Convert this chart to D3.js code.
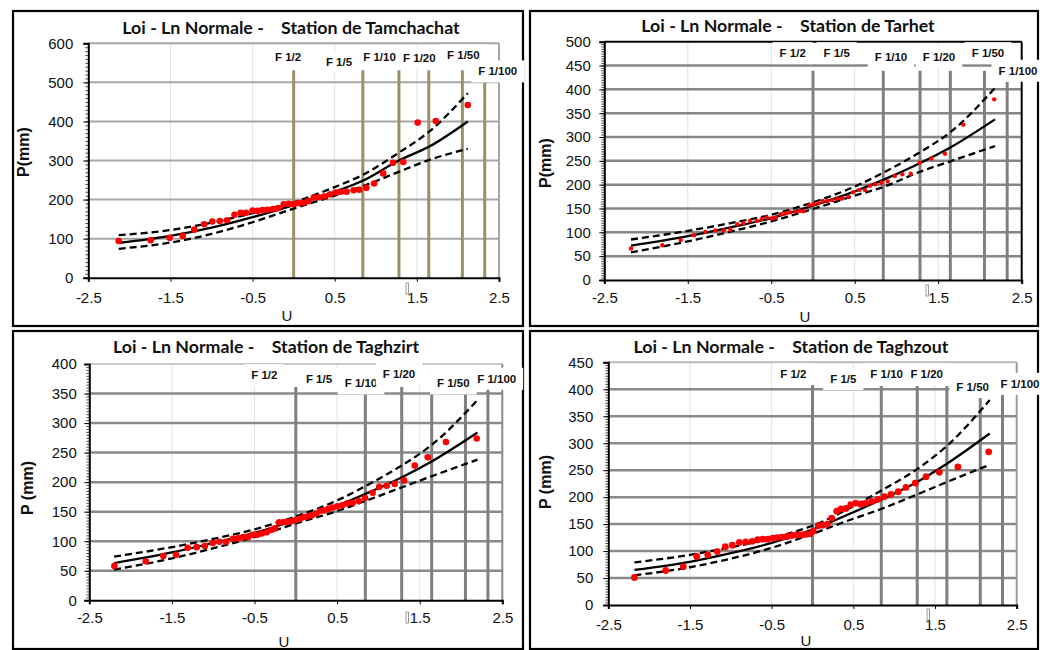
<!DOCTYPE html>
<html>
<head>
<meta charset="utf-8">
<script src="https://cdn.jsdelivr.net/npm/d3@7"></script>
<style>
  body { margin: 0; background: #fff; }
  svg { display: block; }
  text { font-family: "Liberation Sans", Arial, sans-serif; }
  text.title { font-family: Lato, "Open Sans", sans-serif; white-space: pre; }
</style>
</head>
<body>
<div id="chart-area"></div>
<script>
// ---- shared values
var xTicks = [-2.5, -1.5, -0.5, 0.5, 1.5, 2.5];
var freqLabels = ['F 1/2', 'F 1/5', 'F 1/10', 'F 1/20', 'F 1/50', 'F 1/100'];
var freqU = [0, 0.842, 1.282, 1.645, 2.054, 2.326];

// ---- Tamchachat
var tamU = [-2.13,-1.74,-1.51,-1.35,-1.21,-1.09,-0.99,-0.90,-0.81,-0.72,-0.645,-0.58,-0.50,-0.44,-0.38,-0.32,-0.255,-0.19,-0.12,-0.06,0.0,0.06,0.12,0.18,0.245,0.305,0.37,0.44,0.51,0.57,0.645,0.73,0.80,0.885,0.98,1.09,1.21,1.335,1.51,1.73,2.12];
var tamP = [94,96,102,107,123,137,144,145,147,161,166,166,172,171,173,174,176,178,188,189,188,191,192,196,205,206,208,213,218,220,220,224,225,230,241,267,294,296,397,401,442];
var tamLineU = [-2.13,-1.5,-1,-0.5,0,0.5,0.84,1.28,1.645,2.12];
var tamFit   = [89,107,128,155,186,220,248,300,335,400];
var tamUpper = [109,122,141,165,193,232,263,320,373,472];
var tamLower = [74,90,112,142,177,210,234,271,301,330];
var tamFTop  = [531,531,531,531,531,499];
var tamLabU  = [-0.068,0.552,1.045,1.53,2.066,2.484];
var tamLabP  = [566,553,566,562,569,528];

// ---- Tarhet
var tarU = [-2.18,-1.805,-1.585,-1.425,-1.29,-1.17,-1.07,-0.99,-0.907,-0.835,-0.755,-0.674,-0.615,-0.555,-0.495,-0.443,-0.383,-0.327,-0.276,-0.216,-0.156,-0.108,-0.048,0.004,0.064,0.116,0.172,0.232,0.292,0.348,0.423,0.483,0.555,0.623,0.683,0.743,0.818,0.895,0.98,1.07,1.17,1.28,1.417,1.58,1.80,2.17];
var tarP = [66,73,84,94,101,104,104,106,117,119,124,124,128,131,129,131,138,140,142,143,145,145,157,159,161,166,166,168,171,171,174,184,189,189,198,201,204,207,218,222,223,246,255,265,326,379];
var tarLineU = [-2.18,-1.5,-1,-0.5,0,0.5,0.84,1.28,1.645,2.18];
var tarFit   = [72,92,110,130,156,186,210,245,278,337];
var tarUpper = [85,103,119,137,163,196,225,268,310,403];
var tarLower = [58,81,101,123,149,177,195,227,249,281];
var tarFTop  = [439,439,439,439,439,416];
var tarLabU  = [-0.243,0.284,0.934,1.509,2.096,2.456];
var tarLabP  = [476,476,468,468,476,439];

// ---- Taghzirt
var tgrU = [-2.197,-1.817,-1.604,-1.45,-1.309,-1.2,-1.1,-1.006,-0.926,-0.845,-0.764,-0.696,-0.636,-0.575,-0.522,-0.466,-0.413,-0.352,-0.3,-0.252,-0.203,-0.151,-0.103,-0.05,0.002,0.05,0.1,0.148,0.196,0.245,0.293,0.342,0.393,0.447,0.503,0.563,0.624,0.689,0.762,0.838,0.93,1.01,1.1,1.197,1.31,1.44,1.597,1.818,2.19];
var tgrP = [58,66,75,77,89,90,92,97,99,99,104,105,107,107,111,111,113,115,119,122,132,132,133,134,136,138,141,142,144,147,151,152,155,157,159,161,164,165,168,173,182,192,194,197,203,228,242,268,274];
var tgrLineU = [-2.2,-1.5,-1,-0.5,0,0.5,0.84,1.28,1.645,2.2];
var tgrFit   = [63,81,97,114,136,160,180,208,235,284];
var tgrUpper = [74,90,104,120,142,169,193,228,263,339];
var tgrLower = [52,71,88,107,130,151,168,191,210,238];
var tgrFTop  = [361,350,361,350,350,358];
var tgrLabU  = [-0.381,0.281,0.789,1.249,1.907,2.432];
var tgrLabP  = [381,374,367,383,367,375];

// ---- Taghzout
var tgtU = [-2.18,-1.797,-1.582,-1.418,-1.283,-1.166,-1.068,-0.982,-0.896,-0.818,-0.741,-0.671,-0.61,-0.549,-0.487,-0.431,-0.37,-0.309,-0.247,-0.193,-0.132,-0.08,-0.03,0.01,0.071,0.125,0.181,0.235,0.296,0.349,0.41,0.468,0.529,0.59,0.651,0.725,0.802,0.879,0.961,1.05,1.145,1.258,1.39,1.553,1.78,2.157];
var tgtP = [51,64,71,90,93,99,108,111,116,117,118,121,122,122,124,125,126,127,129,130,130,131,132,137,147,148,150,161,174,178,179,186,189,187,189,192,196,201,205,210,218,226,238,246,256,284];
var tgtLineU = [-2.18,-1.5,-1,-0.5,0,0.5,0.84,1.28,1.645,2.17];
var tgtFit   = [65,80,96,115,140,172,195,228,262,318];
var tgtUpper = [79,93,107,124,147,183,212,252,295,380];
var tgtLower = [55,70,86,106,132,160,178,205,228,260];
var tgtFTop  = [409,406,406,406,385,390];
var tgtLabU  = [-0.235,0.377,0.908,1.398,1.961,2.54];
var tgtLabP  = [428,419,428,428,404,410];

// ---- layout of each panel
var panels = [
  { title: 'Loi - Ln Normale -    Station de Tamchachat', ylabel: 'P(mm)',
    box: [13, 11, 510, 315], plot: { l: 88.3, r: 499, t: 43.3, b: 277.7 },
    yMax: 600, yStep: 100, minor: 10, yPad: 10, xDy: 20,
    titleX: 291, titleY: 34, ylabX: 23, ylabY: 152, xlabX: 287, xlabY: 321,
    grid: '#a6a6a6', gridW: 2, frameTop: '#a6a6a6', frameRight: '#a6a6a6', fCol: '#9b9063', fW: 3,
    dot: 3.3, mark: [406, 283],
    u: tamU, p: tamP, lu: tamLineU, fit: tamFit, up: tamUpper, lo: tamLower,
    fTop: tamFTop, labU: tamLabU, labP: tamLabP },
  { title: 'Loi - Ln Normale -    Station de Tarhet', ylabel: 'P(mm)',
    box: [530, 11, 508, 315], plot: { l: 604.3, r: 1021.7, t: 41.7, b: 280 },
    yMax: 500, yStep: 50, minor: 5, yPad: 8.5, xDy: 18,
    titleX: 788, titleY: 32, ylabX: 545, ylabY: 163, xlabX: 805, xlabY: 322,
    grid: '#868686', gridW: 2.5, frameTop: '#000', frameRight: '#000', fCol: '#808080', fW: 3,
    dot: 2.2, mark: [926, 285],
    u: tarU, p: tarP, lu: tarLineU, fit: tarFit, up: tarUpper, lo: tarLower,
    fTop: tarFTop, labU: tarLabU, labP: tarLabP },
  { title: 'Loi - Ln Normale -    Station de Taghzirt', ylabel: 'P (mm)',
    box: [13, 331, 510, 318], plot: { l: 89.3, r: 502.3, t: 364, b: 600.3 },
    yMax: 400, yStep: 50, minor: 5, yPad: 7.5, xDy: 18,
    titleX: 266, titleY: 353, ylabX: 27, ylabY: 488, xlabX: 284, xlabY: 647,
    grid: '#8a8a8a', gridW: 2.5, frameTop: '#c8c8c8', frameRight: '#8a8a8a', fCol: '#7f7f7f', fW: 3,
    dot: 3.3, mark: [406, 612],
    u: tgrU, p: tgrP, lu: tgrLineU, fit: tgrFit, up: tgrUpper, lo: tgrLower,
    fTop: tgrFTop, labU: tgrLabU, labP: tgrLabP },
  { title: 'Loi - Ln Normale -    Station de Taghzout', ylabel: 'P (mm)',
    box: [530, 331, 508, 318], plot: { l: 608.3, r: 1016.7, t: 362.3, b: 605 },
    yMax: 450, yStep: 50, minor: 5, yPad: 10, xDy: 20,
    titleX: 791, titleY: 353, ylabX: 545, ylabY: 482, xlabX: 806, xlabY: 646,
    grid: '#8a8a8a', gridW: 2.5, frameTop: '#bbbbbb', frameRight: '#999999', fCol: '#7f7f7f', fW: 3,
    dot: 3.4, mark: [927, 609],
    u: tgtU, p: tgtP, lu: tgtLineU, fit: tgtFit, up: tgtUpper, lo: tgtLower,
    fTop: tgtFTop, labU: tgtLabU, labP: tgtLabP }
];

var svg = d3.select('#chart-area').append('svg')
    .attr('width', 1040).attr('height', 650);

svg.append('rect').attr('width', 1040).attr('height', 650).attr('fill', '#fff');

panels.forEach(drawPanel);

function drawPanel(c) {
  var x = d3.scaleLinear().domain([-2.5, 2.5]).range([c.plot.l, c.plot.r]);
  var y = d3.scaleLinear().domain([0, c.yMax]).range([c.plot.b, c.plot.t]);
  var g = svg.append('g');

  // outer black border
  g.append('rect')
      .attr('x', c.box[0]).attr('y', c.box[1])
      .attr('width', c.box[2]).attr('height', c.box[3])
      .attr('fill', 'none').attr('stroke', '#000').attr('stroke-width', 2.2);

  // light vertical gridlines
  g.selectAll('.vgrid').data(xTicks.slice(1, -1)).enter()
    .append('line')
      .attr('x1', d => x(d)).attr('x2', d => x(d))
      .attr('y1', y(c.yMax)).attr('y2', y(0))
      .attr('stroke', '#e2e2e2').attr('stroke-width', 1);

  // horizontal gridlines
  var yTicks = d3.range(0, c.yMax + 1, c.yStep);
  g.selectAll('.hgrid').data(yTicks.slice(1, -1)).enter()
    .append('line')
      .attr('x1', x(-2.5)).attr('x2', x(2.5))
      .attr('y1', d => y(d)).attr('y2', d => y(d))
      .attr('stroke', c.grid).attr('stroke-width', c.gridW);

  // plot frame (top + right)
  g.append('line')
      .attr('x1', x(-2.5)).attr('x2', x(2.5))
      .attr('y1', y(c.yMax)).attr('y2', y(c.yMax))
      .attr('stroke', c.frameTop).attr('stroke-width', 2);
  g.append('line')
      .attr('x1', x(2.5)).attr('x2', x(2.5))
      .attr('y1', y(c.yMax)).attr('y2', y(0))
      .attr('stroke', c.frameRight).attr('stroke-width', 2);

  // frequency lines
  g.selectAll('.fline').data(freqU).enter()
    .append('line')
      .attr('x1', d => x(d)).attr('x2', d => x(d))
      .attr('y1', y(0)).attr('y2', (d, i) => y(c.fTop[i]))
      .attr('stroke', c.fCol).attr('stroke-width', c.fW);

  // frequency labels on white boxes
  freqLabels.forEach(function (lab, i) {
    var cx = x(c.labU[i]), cy = y(c.labP[i]);
    var bg = g.append('rect').attr('fill', '#fff');
    var t = g.append('text')
        .attr('x', cx).attr('y', cy)
        .attr('text-anchor', 'middle')
        .attr('dominant-baseline', 'central')
        .attr('font-size', '11.5px').attr('font-weight', 'bold')
        .attr('fill', '#111')
        .text(lab);
    var w = t.node().getComputedTextLength();
    bg.attr('x', cx - w / 2 - 7).attr('y', cy - 11)
      .attr('width', w + 14).attr('height', 22);
  });

  // y axis with minor ticks
  var minorAxis = d3.axisLeft(y)
      .tickValues(d3.range(0, c.yMax + 0.1, c.minor))
      .tickSize(3).tickFormat('');
  g.append('g').attr('transform', 'translate(' + x(-2.5) + ',0)')
      .call(minorAxis)
      .call(s => s.select('.domain').remove())
      .selectAll('line').attr('stroke', '#555');

  var yAxis = d3.axisLeft(y).tickValues(yTicks).tickSize(5)
      .tickPadding(c.yPad).tickFormat(d3.format('d'));
  var ya = g.append('g').attr('transform', 'translate(' + x(-2.5) + ',0)').call(yAxis);
  ya.select('.domain').attr('stroke', '#000').attr('stroke-width', 2);
  ya.selectAll('line').attr('stroke', '#000');
  ya.selectAll('text').attr('font-size', '15px').attr('fill', '#111');

  var xAxis = d3.axisBottom(x).tickValues(xTicks).tickSize(4)
      .tickPadding(c.xDy - 9.5).tickFormat(d => d);
  var xa = g.append('g').attr('transform', 'translate(0,' + y(0) + ')').call(xAxis);
  xa.select('.domain').attr('stroke', '#000').attr('stroke-width', 2);
  xa.selectAll('line').attr('stroke', '#000');
  xa.selectAll('text').attr('font-size', '15px').attr('fill', '#111');

  // little stray mark next to "1.5"
  g.append('rect').attr('x', c.mark[0]).attr('y', c.mark[1])
      .attr('width', 2.5).attr('height', 11)
      .attr('fill', 'none').attr('stroke', '#999').attr('stroke-width', 1);

  // fitted law + confidence bounds
  var line = d3.line().x(d => x(d[0])).y(d => y(d[1])).curve(d3.curveMonotoneX);
  [[c.up, '7,4'], [c.lo, '7,4'], [c.fit, null]].forEach(function (s) {
    g.append('path')
        .datum(c.lu.map((u, i) => [u, s[0][i]]))
        .attr('d', line)
        .attr('fill', 'none').attr('stroke', '#000').attr('stroke-width', 2.3)
        .attr('stroke-dasharray', s[1]);
  });

  // observed values
  g.selectAll('.obs').data(c.u).enter()
    .append('circle')
      .attr('cx', d => x(d))
      .attr('cy', (d, i) => y(c.p[i]))
      .attr('r', c.dot)
      .attr('fill', '#ff0000');

  // titles
  g.append('text')
      .attr('class', 'title')
      .attr('x', c.titleX).attr('y', c.titleY)
      .attr('text-anchor', 'middle')
      .attr('font-weight', 'bold').attr('font-size', '17.8px')
      .attr('fill', '#111')
      .text(c.title);

  g.append('text')
      .attr('transform', 'translate(' + c.ylabX + ',' + c.ylabY + ') rotate(-90)')
      .attr('text-anchor', 'middle').attr('dominant-baseline', 'central')
      .attr('font-weight', 'bold').attr('font-size', '16px')
      .attr('fill', '#111')
      .text(c.ylabel);

  g.append('text')
      .attr('x', c.xlabX).attr('y', c.xlabY)
      .attr('text-anchor', 'middle')
      .attr('font-size', '15px').attr('fill', '#111')
      .text('U');
}
</script>
</body>
</html>
